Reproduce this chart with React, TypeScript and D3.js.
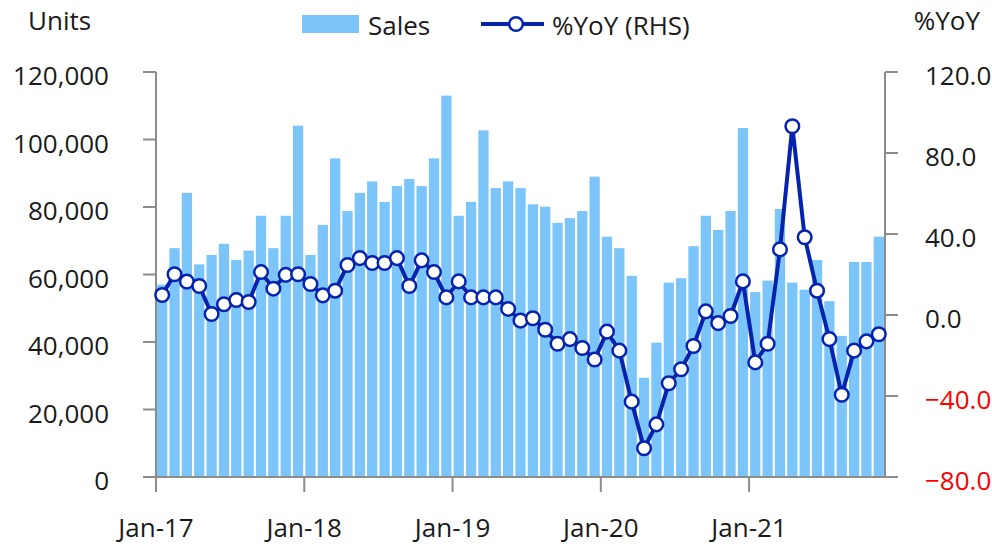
import React from "react";
import * as d3 from "d3";

const sales = [
  57000, 67800, 84200, 63000, 65800, 69100, 64300, 67100, 77400, 67800, 77400, 104100,
  65800, 74700, 94400, 78800, 84200, 87600, 81500, 86200, 88300, 86200, 94400, 113000,
  77400, 81500, 102700, 85600, 87600, 85600, 80800, 80100, 75300, 76700, 78800, 89000,
  71200, 67800, 59600, 29400, 39800, 57600, 58900, 68400, 77400, 73200, 78800, 103400,
  54800, 58200, 79400, 57600, 55500, 64300, 52100, 41800, 63700, 63700, 71200,
];

const yoy = [
  9.9, 20.1, 16.5, 14.3, 0.5, 5.3, 7.4, 6.4, 21.2, 13.0, 19.8, 20.1,
  15.3, 9.7, 12.0, 24.7, 28.1, 25.7, 25.7, 28.1, 14.3, 27.0, 21.2, 8.7,
  16.6, 8.7, 8.7, 8.7, 3.0, -2.8, -1.6, -7.3, -14.2, -11.9, -16.3, -22.0,
  -8.2, -17.6, -42.8, -65.8, -54.0, -33.7, -26.8, -15.3, 1.8, -4.0, -0.5, 16.6,
  -23.4, -14.2, 32.4, 93.2, 38.4, 12.0, -11.9, -39.4, -17.6, -13.0, -9.5,
];

const xTickLabels = ["Jan-17", "Jan-18", "Jan-19", "Jan-20", "Jan-21"];
const xTickIndex = [0, 12, 24, 36, 48];
const leftTicks = [0, 20000, 40000, 60000, 80000, 100000, 120000];
const rightTicks = [-80, -40, 0, 40, 80, 120];

const FONT = "'Open Sans', sans-serif";
const BAR = "#7BC5FB";
const LINE = "#0623AE";
const AXIS = "#8c8c8c";
const TEXT = "#1a1a1a";

export default function App() {
  const W = 992, H = 546;
  const left = 156, right = 885, top = 72, bottom = 477;
  const n = sales.length;
  const idx = d3.range(n);

  const xb = d3.scaleBand<number>().domain(idx).range([left, right]).paddingInner(0.17).paddingOuter(0.085);
  const xt = d3.scaleLinear().domain([0, n]).range([left, right]);
  const yL = d3.scaleLinear().domain([0, 120000]).range([bottom, top]);
  const yR = d3.scaleLinear().domain([-80, 120]).range([bottom, top]);
  const cx = (i: number) => (xb(i) as number) + xb.bandwidth() / 2;

  const line = d3.line<number>().x((d, i) => cx(i)).y((d) => yR(d));
  const fmtL = d3.format(",");
  const fmtR = d3.format(".1f");

  return (
    <svg width={W} height={H} style={{ position: "absolute", left: 0, top: 0 }}>
      {/* bars */}
      {sales.map((v, i) => (
        <rect key={i} x={xb(i)} y={yL(v)} width={xb.bandwidth()} height={bottom - yL(v)} fill={BAR} />
      ))}

      {/* left axis */}
      <line x1={left} x2={left} y1={top} y2={bottom} stroke={AXIS} strokeWidth={2} />
      {leftTicks.map((t) => (
        <g key={t}>
          <line x1={left - 13} x2={left} y1={yL(t)} y2={yL(t)} stroke={AXIS} strokeWidth={2} />
          <text x={109} y={yL(t) + 3} textAnchor="end" dominantBaseline="central" fontFamily={FONT} fontSize={26} fill={TEXT}>
            {fmtL(t)}
          </text>
        </g>
      ))}

      {/* right axis */}
      <line x1={right} x2={right} y1={top} y2={bottom} stroke={AXIS} strokeWidth={2} />
      {rightTicks.map((t) => (
        <g key={t}>
          <line x1={right} x2={right + 13} y1={yR(t)} y2={yR(t)} stroke={AXIS} strokeWidth={2} />
          <text x={925} y={yR(t) + 3} textAnchor="start" dominantBaseline="central" fontFamily={FONT} fontSize={26} fill={t < 0 ? "#FF0000" : TEXT}>
            {fmtR(t)}
          </text>
        </g>
      ))}

      {/* x axis */}
      <line x1={left} x2={right} y1={bottom} y2={bottom} stroke={AXIS} strokeWidth={2} />
      {xTickIndex.map((ti, k) => (
        <g key={ti}>
          <line x1={xt(ti)} x2={xt(ti)} y1={bottom} y2={bottom + 15} stroke={AXIS} strokeWidth={2} />
          <text x={xt(ti)} y={537} textAnchor="middle" fontFamily={FONT} fontSize={26} fill={TEXT}>
            {xTickLabels[k]}
          </text>
        </g>
      ))}

      {/* line series */}
      <path d={line(yoy) || ""} fill="none" stroke={LINE} strokeWidth={4} strokeLinejoin="round" />
      {yoy.map((v, i) => (
        <circle key={i} cx={cx(i)} cy={yR(v)} r={6.8} fill="#fff" stroke={LINE} strokeWidth={2.5} />
      ))}

      {/* titles */}
      <text x={28} y={30} fontFamily={FONT} fontSize={26} fill={TEXT}>Units</text>
      <text x={980} y={30} textAnchor="end" fontFamily={FONT} fontSize={26} fill={TEXT}>%YoY</text>

      {/* legend */}
      <rect x={302} y={15} width={57} height={18} fill={BAR} />
      <text x={368} y={35} fontFamily={FONT} fontSize={26} fill={TEXT}>Sales</text>
      <line x1={481} x2={544} y1={24} y2={24} stroke={LINE} strokeWidth={4} />
      <circle cx={516} cy={24} r={6.8} fill="#fff" stroke={LINE} strokeWidth={2.5} />
      <text x={552} y={35} fontFamily={FONT} fontSize={26} fill={TEXT}>%YoY (RHS)</text>
    </svg>
  );
}
